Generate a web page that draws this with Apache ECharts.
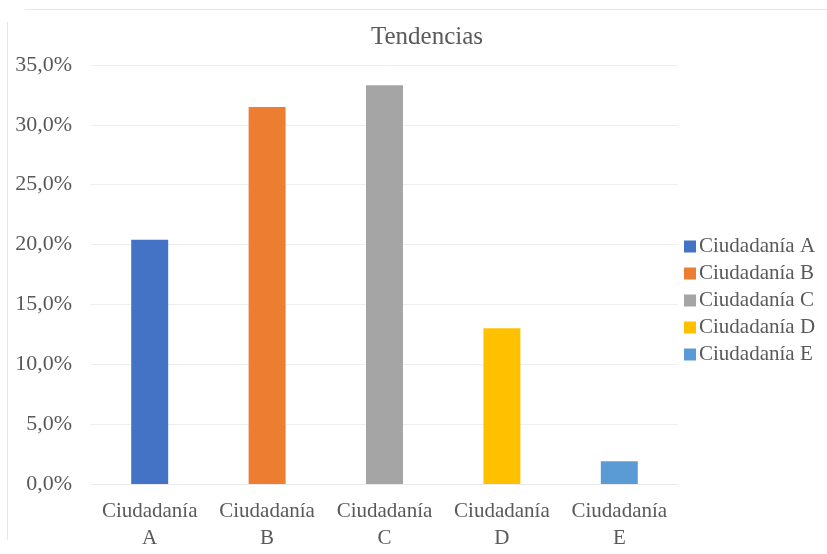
<!DOCTYPE html>
<html>
<head>
<meta charset="utf-8">
<script src="https://cdn.jsdelivr.net/npm/echarts@6/dist/echarts.min.js"></script>
<style>
  html, body { margin: 0; padding: 0; background: #fff; }
  #chart { width: 827px; height: 554px; }
</style>
</head>
<body>
<div id="chart"></div>
<script>
// datos del gráfico
var categories = ['Ciudadanía A', 'Ciudadanía B', 'Ciudadanía C', 'Ciudadanía D', 'Ciudadanía E']
var values = [20.4, 31.5, 33.3, 13.0, 1.9]
var colors = ['#4472C4', '#ED7D31', '#A5A5A5', '#FFC000', '#5B9BD5']
var yTicks = [0, 5, 10, 15, 20, 25, 30, 35]

var chart = echarts.init(document.getElementById('chart'))
var font = '"Liberation Serif", "Times New Roman", serif'
var textColor = '#595959'

var series = categories.map(function (name, i) {
  return {
    name: name,
    type: 'bar',
    stack: 'total',
    barWidth: '31.5%',
    itemStyle: { color: colors[i] },
    data: categories.map(function (c, j) { return j === i ? values[i] : '-' })
  }
})

var option = {
  animation: false,
  backgroundColor: '#fff',
  title: {
    text: 'Tendencias',
    left: 422,
    textAlign: 'center',
    top: 20,
    textStyle: { fontFamily: font, fontSize: 25, fontWeight: 'normal', color: textColor }
  },
  legend: {
    orient: 'vertical',
    left: 679,
    top: 231,
    itemWidth: 12,
    itemHeight: 12,
    itemGap: 6,
    icon: 'rect',
    data: categories,
    textStyle: { fontFamily: font, fontSize: 21, color: textColor, padding: [0, 0, 0, -2] }
  },
  grid: {
    left: 91,
    right: 149,
    top: 65,
    bottom: 70,
    containLabel: false
  },
  xAxis: {
    type: 'category',
    data: categories,
    axisLine: { lineStyle: { color: '#eaeaea' } },
    axisTick: { show: false },
    axisLabel: {
      fontFamily: font,
      fontSize: 21,
      color: textColor,
      lineHeight: 27,
      margin: 14,
      interval: 0,
      formatter: function (v) { return v.replace(' ', '\n') }
    }
  },
  yAxis: {
    type: 'value',
    min: yTicks[0],
    max: yTicks[yTicks.length - 1],
    interval: 5,
    axisLine: { show: false },
    axisTick: { show: false },
    splitLine: { lineStyle: { color: '#eeeeee' } },
    axisLabel: {
      fontFamily: font,
      fontSize: 22,
      color: textColor,
      margin: 19,
      formatter: function (v) { return v.toFixed(1).replace('.', ',') + '%' }
    }
  },
  graphic: [
    { type: 'line', shape: { x1: 25, y1: 9.5, x2: 827, y2: 9.5 }, style: { stroke: '#e6e6e6', lineWidth: 1 } },
    { type: 'line', shape: { x1: 7.5, y1: 22, x2: 7.5, y2: 540 }, style: { stroke: '#e6e6e6', lineWidth: 1 } }
  ],
  series: series
}
chart.setOption(option)
</script>
</body>
</html>
